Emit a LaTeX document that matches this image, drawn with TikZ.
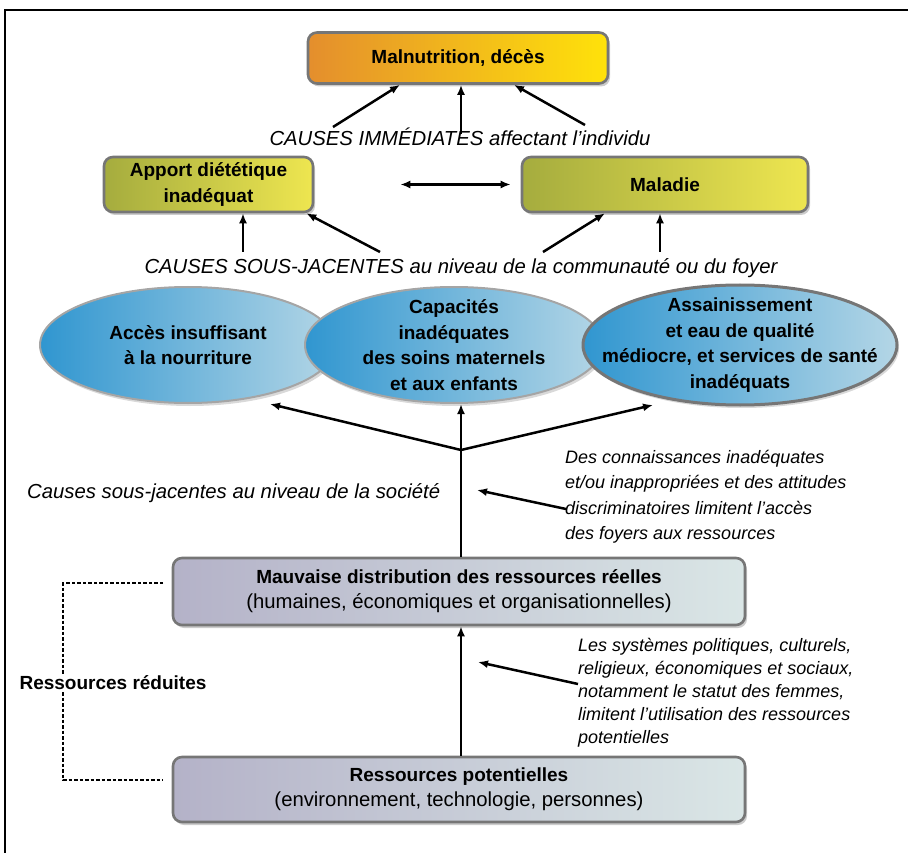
\documentclass[tikz,border=0pt]{standalone}
\usepackage{fontspec}
\setmainfont{Liberation Sans}
\usetikzlibrary{shapes.geometric,shadows,arrows.meta}
\definecolor{bordgray}{RGB}{118,118,118}
\definecolor{ellgray}{RGB}{165,165,165}
\definecolor{orangeL}{RGB}{228,142,45}
\definecolor{orangeM}{RGB}{246,196,40}
\definecolor{yellowR}{RGB}{255,226,10}
\definecolor{oliveL}{RGB}{165,172,62}
\definecolor{oliveM}{RGB}{215,214,70}
\definecolor{oliveR}{RGB}{238,230,80}
\definecolor{blueL}{RGB}{48,150,208}
\definecolor{blueM}{RGB}{95,172,214}
\definecolor{blueR}{RGB}{180,214,230}
\definecolor{grayL}{RGB}{180,178,200}
\definecolor{grayM}{RGB}{198,202,215}
\definecolor{grayR}{RGB}{218,230,230}
\tikzset{
  rbox/.style={draw=bordgray, line width=2.6pt, rounded corners=9pt, align=center, inner sep=0pt,
    drop shadow={opacity=0.4, shadow xshift=2pt, shadow yshift=-3pt}},
  orangebox/.style={rbox, left color=orangeL, middle color=orangeM, right color=yellowR},
  olivebox/.style={rbox, left color=oliveL, middle color=oliveM, right color=oliveR},
  graybox/.style={rbox, left color=grayL, middle color=grayM, right color=grayR},
  bell/.style={ellipse, draw=ellgray, line width=2pt, inner sep=0pt,
    left color=blueL, middle color=blueM, right color=blueR,
    drop shadow={opacity=0.3, shadow xshift=2pt, shadow yshift=-3pt}},
  bfont/.style={font=\fontsize{19}{25.5}\selectfont\bfseries},
  etext/.style={bfont, align=center, inner sep=0pt},
  lab/.style={inner sep=0pt, font=\fontsize{20.3}{25}\selectfont\itshape},
  sidetext/.style={inner sep=0pt, align=left, font=\fontsize{18}{25.5}\selectfont\itshape},
  arr/.style={line width=2.5pt, -{Latex[length=10pt,width=8pt]}},
  arrboth/.style={line width=2.5pt, {Latex[length=10pt,width=8pt]}-{Latex[length=10pt,width=8pt]}},
  plain/.style={line width=2.5pt},
  dsh/.style={line width=1.3pt, dash pattern=on 3.5pt off 2pt}
}
\begin{document}
\begin{tikzpicture}[x=1pt,y=-1pt]
\useasboundingbox (0,0) rectangle (908,853);
% frame
\draw[line width=1.3pt] (5,853) -- (5,10) -- (908,10);

% top box
\node[orangebox, bfont, minimum width=300pt, minimum height=51pt] (mal) at (458,58) {Malnutrition, décès};
\node[lab] (ci) at (460,137) {CAUSES IMMÉDIATES affectant l’individu};

% second row
\node[olivebox, bfont, minimum width=209pt, minimum height=55pt] (app) at (208.5,184.5) {Apport diététique\\inadéquat};
\node[olivebox, bfont, minimum width=286pt, minimum height=55pt] (mdl) at (665,184.5) {Maladie};
\node[lab] (cs) at (461,268) {CAUSES SOUS-JACENTES au niveau de la communauté ou du foyer};

% ellipses
\node[bell, minimum width=296pt, minimum height=116pt] (e1) at (188,345) {};
\node[etext] (e1t) at (e1.center) {Accès insuffisant\\à la nourriture};
\node[bell, minimum width=298pt, minimum height=116pt] (e2) at (454,345) {};
\node[etext] (e2t) at (e2.center) {Capacités\\inadéquates\\des soins maternels\\et aux enfants};
\node[bell, draw=bordgray, line width=3pt, minimum width=314pt, minimum height=120pt] (e3) at (740,345) {};
\node[etext] (e3t) at (e3.center) {Assainissement\\et eau de qualité\\médiocre, et services de santé\\inadéquats};

% society level
\node[lab, anchor=west] (soc) at (27,493) {Causes sous-jacentes au niveau de la société};
\node[sidetext, anchor=north west] (kn) at (565,450) {Des connaissances inadéquates\\et/ou inappropriées et des attitudes\\discriminatoires limitent l’accès\\des foyers aux ressources};

% lower boxes
\node[graybox, font=\fontsize{20.3}{25}\selectfont, minimum width=572pt, minimum height=67pt] (mauv) at (459,591.5)
  {{\fontsize{19}{25}\selectfont\bfseries Mauvaise distribution des ressources réelles}\\(humaines, économiques et organisationnelles)};
\node[graybox, font=\fontsize{20.3}{25}\selectfont, minimum width=572pt, minimum height=65pt] (res) at (459,789.5)
  {{\fontsize{19}{25}\selectfont\bfseries Ressources potentielles}\\(environnement, technologie, personnes)};
\node[sidetext, anchor=north west, font=\fontsize{18}{23}\selectfont\itshape] (pol) at (578,638) {Les systèmes politiques, culturels,\\religieux, économiques et sociaux,\\notamment le statut des femmes,\\limitent l’utilisation des ressources\\potentielles};

% coordinates
\coordinate (i1) at (333,127);
\coordinate (i2) at (461,134);
\coordinate (i3) at (585,125);
\coordinate (u1) at (243,252);
\coordinate (u2) at (380,252);
\coordinate (u3) at (543,252);
\coordinate (u4) at (660,252);
\coordinate (br) at (461,450);
\coordinate (k1) at (566,509);
\coordinate (k2) at (477,490);
\coordinate (p1) at (578,684);
\coordinate (p2) at (478,662);

% arrows top
\draw[arr] (i1) -- ([xshift=-58pt]mal.south);
\draw[arr] (i2) -- (mal.south -| i2);
\draw[arr] (i3) -- ([xshift=56pt]mal.south);
\draw[arrboth] ([xshift=86pt]app.east) -- ([xshift=-10pt]mdl.west);
\draw[arr] (u1) -- (app.south -| u1);
\draw[arr] (u2) -- ([xshift=-8pt]app.south east);
\draw[arr] (u3) -- ([xshift=-60pt]mdl.south);
\draw[arr] (u4) -- (mdl.south -| u4);

% society arrows
\draw[plain] (mauv.north -| br) -- (br);
\draw[arr] (br) -- (270,404);
\draw[arr] (br) -- (e2.south -| br);
\draw[arr] (br) -- (653,405);
\draw[arr] (k1) -- (k2);

% bottom
\draw[arr] (res.north -| br) -- (mauv.south -| br);
\draw[arr] (p1) -- (p2);

% dashed bracket
\coordinate (d1) at (163,583);
\coordinate (d2) at (63,583);
\coordinate (d3) at (63,780);
\coordinate (d4) at (163,780);
\draw[dsh] (d1) -- (d2) -- (d3) -- (d4);
\node[fill=white, inner sep=2pt, bfont] (rr) at (113,683) {Ressources réduites};
\end{tikzpicture}
\end{document}
